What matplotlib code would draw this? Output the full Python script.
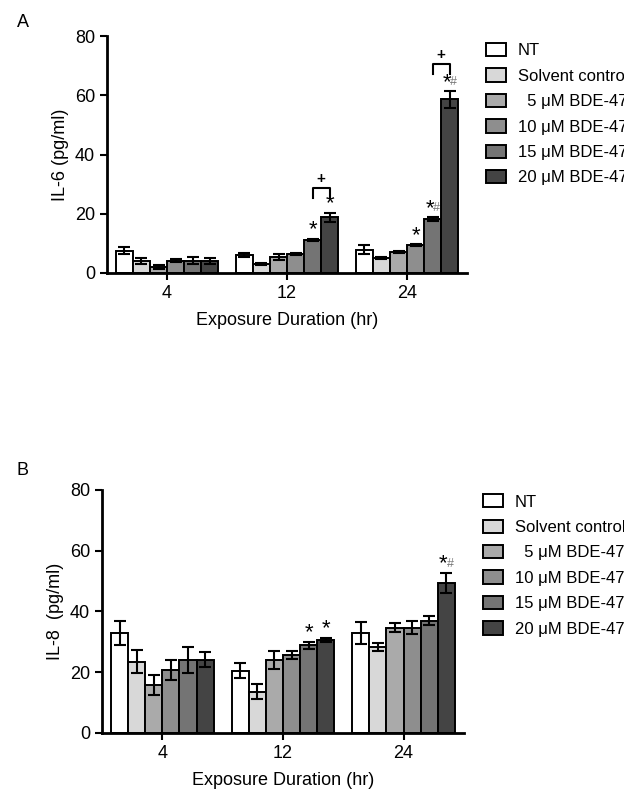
import matplotlib
matplotlib.use("Agg")
import matplotlib.pyplot as plt
import numpy as np

plt.rcParams["font.family"] = ["Liberation Sans", "DejaVu Sans"]

durations = ["4", "12", "24"]
groups = ["NT", "Solvent control", "  5 \u03bcM BDE-47", "10 \u03bcM BDE-47",
          "15 \u03bcM BDE-47", "20 \u03bcM BDE-47"]
colors = ["#ffffff", "#d8d8d8", "#aaaaaa", "#8e8e8e", "#747474", "#444444"]

# IL-6 (pg/ml): rows = treatment, cols = 4, 12, 24 hr
il6_mean = [
    [7.6, 6.1, 7.9],
    [4.2, 3.0, 5.0],
    [2.0, 5.4, 7.1],
    [4.2, 6.4, 9.4],
    [4.2, 11.2, 18.2],
    [4.2, 18.9, 58.7],
]
il6_err = [
    [1.3, 0.8, 1.4],
    [1.0, 0.4, 0.3],
    [0.8, 1.1, 0.4],
    [0.5, 0.4, 0.4],
    [1.2, 0.4, 0.6],
    [1.0, 1.5, 2.8],
]

# IL-8 (pg/ml)
il8_mean = [
    [32.9, 20.5, 32.9],
    [23.5, 13.6, 28.3],
    [15.9, 23.9, 34.7],
    [20.8, 25.6, 34.7],
    [24.1, 28.8, 37.0],
    [24.1, 30.7, 49.5],
]
il8_err = [
    [3.8, 2.5, 3.6],
    [3.9, 2.4, 1.3],
    [3.3, 3.0, 1.4],
    [3.2, 1.3, 2.0],
    [4.2, 1.3, 1.4],
    [2.5, 0.7, 3.3],
]

# significance marks: (treatment index, duration index, text)
il6_marks = [(4, 1, "*"), (5, 1, "*"), (3, 2, "*"), (4, 2, "*#"), (5, 2, "*#")]
il8_marks = [(4, 1, "*"), (5, 1, "*"), (5, 2, "*#")]
# brackets between 15 and 20 uM: (duration index, bracket height)
il6_brackets = [(1, 28.7), (2, 70.5)]

BW = 0.142
x = np.arange(len(durations))


def offsets(i):
    return x + (i - 2.5) * BW


def draw_panel(ax, means, errs, marks, brackets, ylabel, leg_y):
    for i, g in enumerate(groups):
        ax.bar(offsets(i), means[i], BW, yerr=errs[i], color=colors[i],
               edgecolor="black", linewidth=1.4, label=g,
               error_kw=dict(elinewidth=1.5, capsize=4, capthick=1.5,
                             ecolor="black"))
    for i, j, txt in marks:
        xx = offsets(i)[j]
        yy = means[i][j] + errs[i][j] - 0.6
        ax.text(xx - 0.025 if "#" in txt else xx, yy, "*", ha="center",
                va="bottom", fontsize=16)
        if "#" in txt:
            ax.text(xx + 0.035, yy + 1.6, "#", ha="center", va="bottom",
                    fontsize=9, color="#777777")
    for j, h in brackets:
        x0, x1 = offsets(4)[j], offsets(5)[j]
        ax.plot([x0, x0, x1, x1], [h - 3.2, h, h, h - 3.2], color="black",
                lw=1.5, clip_on=False)
        ax.text((x0 + x1) / 2, h + 0.8, "+", ha="center", va="bottom",
                fontsize=11, fontweight="bold")
    ax.set_xlim(-0.5, 2.5)
    ax.set_ylim(0, 80)
    ax.set_yticks([0, 20, 40, 60, 80])
    ax.set_xticks(x)
    ax.set_xticklabels(durations)
    ax.set_ylabel(ylabel, fontsize=13)
    ax.set_xlabel("Exposure Duration (hr)", fontsize=13, labelpad=7)
    for s in ["top", "right"]:
        ax.spines[s].set_visible(False)
    for s in ["left", "bottom"]:
        ax.spines[s].set_linewidth(2)
    ax.tick_params(width=1.5, length=5, labelsize=13)
    ax.legend(loc="upper left", bbox_to_anchor=(1.035, leg_y), frameon=False,
              fontsize=12, handlelength=1.2, handleheight=0.85,
              handletextpad=0.7, labelspacing=0.6, borderaxespad=0)


fig = plt.figure(figsize=(6.24, 7.89), dpi=100)
axA = fig.add_axes([0.1715, 0.654, 0.577, 0.300])
axB = fig.add_axes([0.1635, 0.071, 0.580, 0.308])
draw_panel(axA, il6_mean, il6_err, il6_marks, il6_brackets, "IL-6 (pg/ml)",
           1.0)
draw_panel(axB, il8_mean, il8_err, il8_marks, [], "IL-8  (pg/ml)", 1.01)
fig.text(0.027, 0.972, "A", fontsize=13, va="center")
fig.text(0.027, 0.404, "B", fontsize=13, va="center")

fig.savefig("out.png", dpi=100, facecolor="white")
